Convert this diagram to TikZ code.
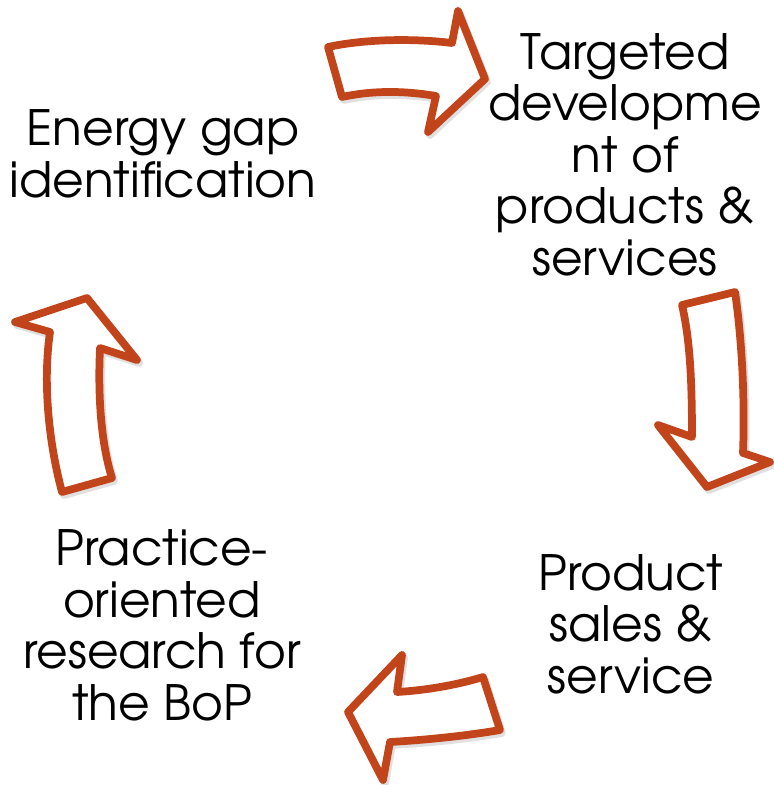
\documentclass[tikz,border=0pt]{standalone}
\usepackage{fontspec}
\setmainfont{TeX Gyre Adventor}
\definecolor{cyclered}{RGB}{193,68,27}
\begin{document}
\begin{tikzpicture}[x=0.75pt, y=-0.75pt,
  blockarrow/.style={draw=cyclered, fill=white, line width=5.8pt, line join=round},
  arrowshadow/.style={draw=black, fill=black, line width=5.8pt, line join=round,
    opacity=0.12, shift={(2,3)}},
  lbl/.style={align=center, inner sep=0pt, anchor=base,
    font=\fontsize{36.5}{38.6}\selectfont}]
\useasboundingbox (0,0) rectangle (774,785);

% step labels (anchored at the baseline of the last line)
\node[lbl] (gap)   at (163,197) {Energy gap\\identification};
\node[lbl] (dev)   at (625,275) {Targeted\\developme\\nt of\\products \&\\services};
\node[lbl] (sales) at (631,693) {Product\\sales \&\\service};
\node[lbl] (res)   at (162,720) {Practice-\\oriented\\research for\\the BoP};

% outlines of the four curved block arrows
\def\arrowA{(328,47) .. controls (370,38) and (420,39) .. (452,43)
  -- (458,11) -- (485,79) -- (428,132) -- (436,96)
  .. controls (400,90) and (370,91) .. (342,97) -- cycle}
\def\arrowB{(682,305) -- (735,292)
  .. controls (742,340) and (745,400) .. (743,453)
  -- (770,462) -- (707,487) -- (658,425) -- (692,437)
  .. controls (692,380) and (690,340) .. (682,305) -- cycle}
\def\arrowC{(483,677) -- (500,730)
  .. controls (465,736) and (425,740) .. (390,742)
  -- (383,780) -- (348,712) -- (402,655) -- (397,692)
  .. controls (430,690) and (460,684) .. (483,677) -- cycle}
\def\arrowD{(62,492) -- (112,478)
  .. controls (100,440) and (98,390) .. (100,348)
  -- (137,360) -- (87,298) -- (15,322) -- (50,332)
  .. controls (43,380) and (48,440) .. (62,492) -- cycle}

% soft drop shadows, then the arrows themselves
\foreach \p in {\arrowA,\arrowB,\arrowC,\arrowD}
  \draw[arrowshadow] \p;
\foreach \p in {\arrowA,\arrowB,\arrowC,\arrowD}
  \draw[blockarrow] \p;
\end{tikzpicture}
\end{document}
